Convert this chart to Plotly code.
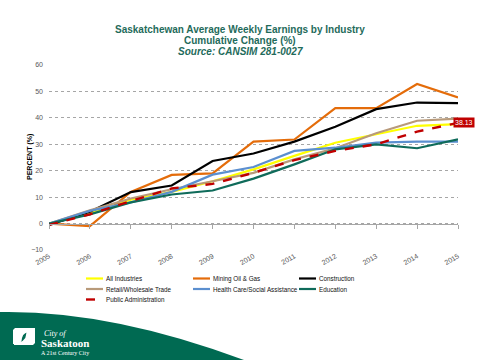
import plotly.graph_objects as go

years = [2005, 2006, 2007, 2008, 2009, 2010, 2011, 2012, 2013, 2014, 2015]
all_industries = [0, 4.0, 9.0, 12.0, 16.0, 20.5, 25.6, 30.6, 33.8, 37.0, 37.6]
mining = [0, -1.0, 12.0, 18.4, 19.0, 31.0, 31.8, 43.7, 43.7, 52.8, 47.7]
construction = [-0.5, 4.5, 11.9, 14.4, 23.7, 26.5, 31.0, 36.6, 43.3, 45.8, 45.6]
retail = [0, 5.0, 9.5, 13.0, 16.0, 19.2, 24.3, 28.5, 34.2, 38.9, 39.7]
health = [0, 4.8, 8.0, 12.0, 18.5, 21.4, 27.5, 28.7, 30.6, 31.0, 31.0]
education = [0, 3.5, 8.0, 11.0, 12.5, 17.0, 22.4, 28.1, 30.0, 28.5, 31.9]
public_admin = [-0.5, 3.5, 8.5, 13.3, 15.0, 19.2, 24.0, 27.5, 30.0, 34.8, 38.13]

series = [
    ("All Industries", all_industries, "#FFFF00", "solid"),
    ("Mining Oil & Gas", mining, "#E46C0A", "solid"),
    ("Construction", construction, "#000000", "solid"),
    ("Retail/Wholesale Trade", retail, "#B89A7A", "solid"),
    ("Health Care/Social Assistance", health, "#5B8FCF", "solid"),
    ("Education", education, "#0F6B5A", "solid"),
    ("Public Administration", public_admin, "#C00000", "dash"),
]

W, H = 480, 360
L, R, T, B = 49, 22, 65, 110
PW, PH = W - L - R, H - T - B


def px(x):
    return (x - L) / PW


def py(y):
    return (H - B - y) / PH


fig = go.Figure()
for name, vals, color, dash in series:
    fig.add_trace(go.Scatter(
        x=years, y=vals, name=name, mode="lines", showlegend=False,
        line=dict(color=color, width=2.2 if dash == "solid" else 2.4, dash=dash),
    ))

# invisible trace to carry the zero-line axis with ticks
fig.add_trace(go.Scatter(x=years, y=[0] * len(years), xaxis="x2", mode="lines",
                         line=dict(width=0), showlegend=False, hoverinfo="skip"))

last_label = public_admin[-1]
fig.add_annotation(x=years[-1], y=last_label, text=f"{last_label:.2f}",
                   showarrow=False, xanchor="center", yanchor="middle", xshift=6,
                   bgcolor="#C00000", font=dict(color="white", size=7, family="Liberation Sans"),
                   borderpad=1)

# Manual legend (3 columns, tight rows)
col_x = [86, 193, 299]
row_y = [278.5, 289, 299.5]
for i, (name, vals, color, dash) in enumerate(series):
    r, c = divmod(i, 3)
    x0, yy = col_x[c], row_y[r]
    fig.add_shape(type="line", xref="paper", yref="paper",
                  x0=px(x0), x1=px(x0 + 17), y0=py(yy), y1=py(yy),
                  line=dict(color=color, width=2.2 if dash == "solid" else 2.4,
                            dash="dash" if dash == "dash" else "solid"))
    fig.add_annotation(x=px(x0 + 18), y=py(yy), xref="paper", yref="paper",
                       text=name, showarrow=False, xanchor="left", yanchor="middle",
                       font=dict(size=6.3, color="#111111", family="Liberation Sans"))

# Y axis title
fig.add_annotation(x=px(30), y=py(157), xref="paper", yref="paper",
                   text="<b>PERCENT (%)</b>", textangle=-90, showarrow=False,
                   xanchor="center", yanchor="middle",
                   font=dict(size=7, color="#000000", family="Liberation Sans"))

title_color = "#1F6B5B"
titles = [
    ("<b>Saskatchewan Average Weekly Earnings by Industry</b>", 29.5),
    ("<b>Cumulative Change (%)</b>", 40.5),
    ("<b><i>Source: CANSIM 281-0027</i></b>", 51),
]
for txt, ypix in titles:
    fig.add_annotation(x=px(240), y=py(ypix), xref="paper", yref="paper", text=txt,
                       showarrow=False, xanchor="center", yanchor="middle",
                       font=dict(color=title_color, size=10, family="Liberation Sans"))

# Green wave footer
green = "#006A52"
path = (f"M {px(0)},{py(312)} Q {px(110)},{py(310)} {px(244)},{py(360)} "
        f"L {px(0)},{py(360)} Z")
fig.add_shape(type="path", path=path, xref="paper", yref="paper",
              fillcolor=green, line=dict(width=0), layer="above")

# Logo icon
icon = (f"M {px(15)},{py(328)} L {px(35)},{py(328)} L {px(35)},{py(331)} "
        f"Q {px(22)},{py(332)} {px(22)},{py(338)} Q {px(22)},{py(344)} {px(15)},{py(344)} "
        f"L {px(13)},{py(344)} L {px(13)},{py(330)} Z")
fig.add_shape(type="path", path=icon, xref="paper", yref="paper",
              fillcolor="white", line=dict(width=0), layer="above")
icon2 = (f"M {px(33)},{py(345)} L {px(14)},{py(345)} L {px(14)},{py(343)} "
         f"Q {px(26)},{py(342)} {px(26)},{py(335)} Q {px(26)},{py(329)} {px(33)},{py(329)} "
         f"L {px(35)},{py(329)} L {px(35)},{py(343)} Z")
fig.add_shape(type="path", path=icon2, xref="paper", yref="paper",
              fillcolor="white", line=dict(width=0), layer="above")

fig.add_annotation(x=px(42), y=py(333), xref="paper", yref="paper", text="<i>City of</i>",
                   showarrow=False, xanchor="left", yanchor="middle",
                   font=dict(color="white", size=8, family="Liberation Serif"))
fig.add_annotation(x=px(39), y=py(342.5), xref="paper", yref="paper", text="<b>Saskatoon</b>",
                   showarrow=False, xanchor="left", yanchor="middle",
                   font=dict(color="white", size=11, family="Liberation Serif"))
fig.add_annotation(x=px(39), y=py(353), xref="paper", yref="paper", text="A 21st Century City",
                   showarrow=False, xanchor="left", yanchor="middle",
                   font=dict(color="white", size=6, family="Liberation Serif"))

fig.update_layout(
    width=W, height=H,
    margin=dict(l=L, r=R, t=T, b=B, pad=0),
    paper_bgcolor="white", plot_bgcolor="white",
    font=dict(family="Liberation Sans", size=7, color="#595959"),
    showlegend=False,
    xaxis=dict(range=[2005, 2015], tickvals=years, ticktext=[str(y) for y in years],
               tickangle=-30, showgrid=False, zeroline=False, showline=False,
               ticks="", tickfont=dict(size=7, color="#595959"), automargin=False),
    xaxis2=dict(range=[2005, 2015], overlaying="x", anchor="free", position=py(224),
                side="bottom", showline=True, linecolor="#A6A6A6", linewidth=1,
                ticks="outside", ticklen=4, tickcolor="#A6A6A6", tickvals=years,
                showticklabels=False, showgrid=False, zeroline=False, automargin=False),
    yaxis=dict(range=[-10, 60], dtick=10, showgrid=True, gridcolor="#A6A6A6",
               griddash="dot", gridwidth=1, zeroline=False, showline=False,
               ticks="", ticklabelstandoff=5, automargin=False,
               tickfont=dict(size=7, color="#595959")),
)

fig.write_html("out.html", config={"displayModeBar": False},
               post_script="document.body.style.margin='0';document.body.style.overflow='hidden';")
